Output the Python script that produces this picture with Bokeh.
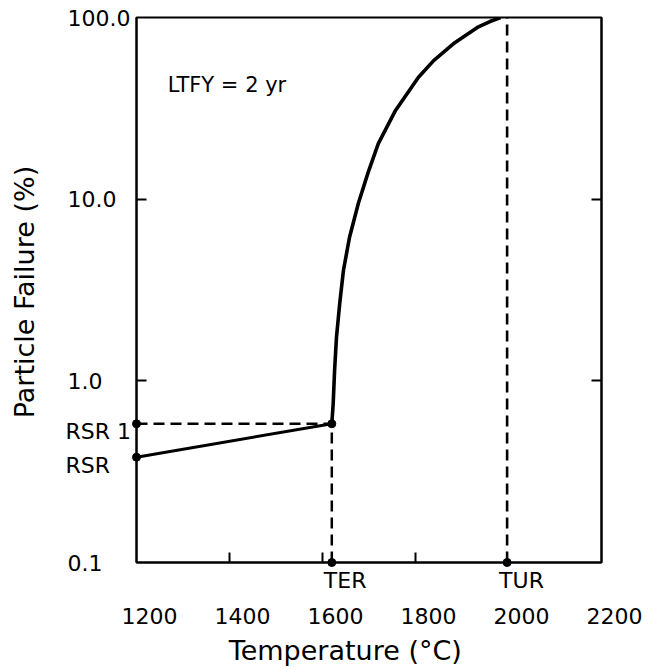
import math
from bokeh.plotting import figure
from bokeh.models import FixedTicker, LogAxis, Range1d
from bokeh.core.properties import value
from bokeh.embed import file_html
from bokeh.resources import INLINE

# ---- data ----
temp_low = [1200, 1620]
fail_low = [0.38, 0.58]
temp_rise = [1620, 1623, 1626, 1630, 1637, 1645, 1658, 1677, 1698, 1720,
             1757, 1806, 1839, 1882, 1933, 1960, 1983]
fail_rise = [0.58, 0.75, 1.14, 1.73, 2.66, 4.05, 6.15, 9.46, 14.0, 20.2,
             30.8, 46.7, 57.9, 71.9, 88.1, 95.0, 100.0]
TER = 1620
TUR = 1997
RSR = 0.38
RSR1 = 0.58
x_ticks = [1200, 1400, 1600, 1800, 2000, 2200]
x_tick_labels = ["1200", "1400", "1600", "1800", "2000", "2200"]
y_ticks = [0.1, 1.0, 10.0, 100.0]
y_tick_labels = ["0.1", "1.0", "10.0", "100.0"]
marker_names = ["TER", "TUR"]
marker_temps = [TER, TUR]
side_names = ["RSR 1", "RSR"]
side_values = [RSR1, RSR]
note_text = "LTFY = 2 yr"
x_title = "Temperature (°C)"
y_title = "Particle Failure (%)"

FONT = "DejaVu Sans"

p = figure(width=656, height=668, y_axis_type="log",
           x_range=Range1d(1200, 2200), y_range=Range1d(0.1, 100),
           output_backend="svg", toolbar_location=None,
           min_border_left=136, min_border_right=55,
           min_border_top=17, min_border_bottom=106)
p.grid.visible = False
p.outline_line_color = "black"
p.outline_line_width = 2
p.background_fill_color = "white"
p.border_fill_color = "white"

def style_axis(ax, ticks):
    ax.ticker = FixedTicker(ticks=ticks)
    ax.minor_tick_line_color = None
    ax.major_tick_in = 10
    ax.major_tick_out = 0
    ax.major_tick_line_width = 2
    ax.major_tick_line_color = "black"
    ax.axis_line_width = 2
    ax.axis_line_color = "black"
    ax.major_label_overrides = {t: "" for t in ticks}
    ax.major_label_standoff = 0

style_axis(p.xaxis[0], [1400, 1600, 1800])
style_axis(p.yaxis[0], [1.0, 10.0])
right = LogAxis()
style_axis(right, [1.0, 10.0])
p.add_layout(right, "right")

# dashed guide lines
dash = "11 6"
p.line([1200, TER], [RSR1, RSR1], line_color="black", line_width=2.5, line_dash=dash)
p.line([TER, TER], [0.1, RSR1], line_color="black", line_width=2.5, line_dash=dash)
p.line([TUR, TUR], [0.1, 100], line_color="black", line_width=2.6, line_dash=dash)

# curves
p.line(temp_low, fail_low, line_color="black", line_width=3)
p.line(temp_rise, fail_rise, line_color="black", line_width=3.6,
       line_join="round")

# dots
dots = p.scatter([1200, 1200, TER, TER, TUR], [RSR, RSR1, RSR1, 0.1, 0.1],
                 size=8, color="black")
dots.level = "overlay"

def txt(xs, ys, texts, size="22px", **kw):
    r = p.text(x=xs, y=ys, text=texts, text_font=value(FONT),
               text_font_size=value(size), text_color="black", **kw)
    r.level = "overlay"
    return r

# x tick labels (shifted right as in the reference)
txt(x_ticks, [0.1] * len(x_ticks), x_tick_labels, x_offset=13, y_offset=53,
    text_align="center", text_baseline="middle")
# y tick labels (left aligned as in the reference)
txt([1200] * len(y_ticks), y_ticks, y_tick_labels, x_offset=-69,
    text_align="left", text_baseline="middle")
txt([1200] * len(side_values), side_values, side_names, x_offset=-71, y_offset=8,
    text_align="left", text_baseline="middle")
txt(marker_temps, [0.1] * len(marker_temps), marker_names, x_offset=-8, y_offset=18,
    text_align="left", text_baseline="middle")

txt([1267], [42.3], [note_text], size="21px", text_align="left",
    text_baseline="middle")

txt([1649], [0.1], [x_title], size="27px", y_offset=88, text_align="center",
    text_baseline="middle")
txt([1200], [3.08], [y_title], size="27px", x_offset=-112, text_align="center",
    text_baseline="middle", angle=math.pi / 2)

open("out.html", "w").write(file_html(p, INLINE))
